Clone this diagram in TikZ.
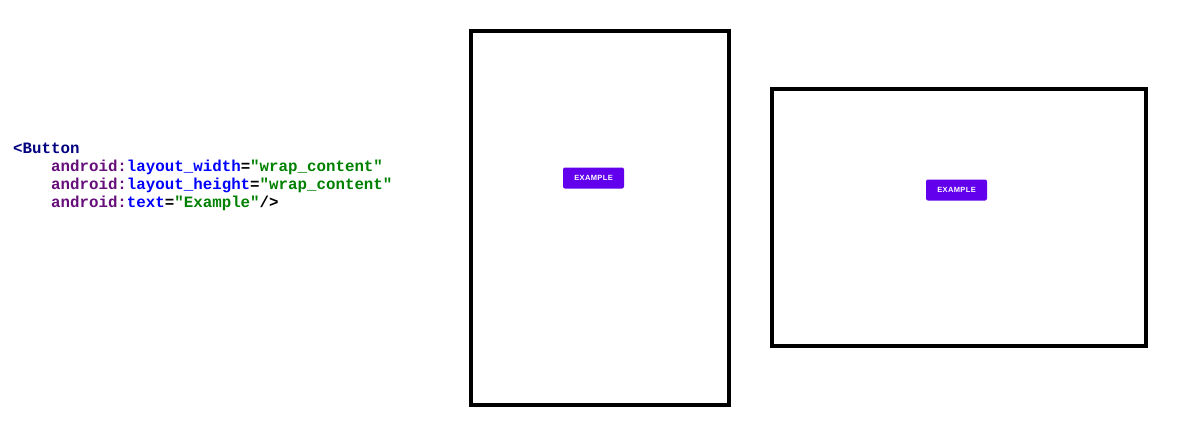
\documentclass[tikz,border=0pt]{standalone}
\usepackage{fontspec}
\setmonofont{Liberation Mono}
\newfontfamily\btnfont[LetterSpace=5]{Liberation Sans}
\definecolor{tagc}{HTML}{000080}
\definecolor{nsc}{HTML}{660E7A}
\definecolor{attc}{HTML}{0000FF}
\definecolor{valc}{HTML}{008000}
\definecolor{btnc}{HTML}{6200EE}
\tikzset{
  codeline/.style={anchor=base west, inner sep=0pt, font=\ttfamily\bfseries\fontsize{15.8}{18}\selectfont},
  screen/.style={draw=black, line width=4pt, fill=white},
  btn/.style={fill=btnc, rounded corners=2pt, text=white, font=\btnfont\bfseries\fontsize{7.5}{9}\selectfont, minimum width=61pt, minimum height=21pt, inner sep=0pt}
}
\begin{document}
\begin{tikzpicture}[x=1pt,y=-1pt]
\useasboundingbox (0,0) rectangle (1200,437);
\node[codeline] (l1) at (13,153) {\textcolor{tagc}{<Button}};
\node[codeline] (l2) at (13,171) {\phantom{xxxx}\textcolor{nsc}{android:}\textcolor{attc}{layout\_width}=\textcolor{valc}{"wrap\_content"}};
\node[codeline] (l3) at (13,189) {\phantom{xxxx}\textcolor{nsc}{android:}\textcolor{attc}{layout\_height}=\textcolor{valc}{"wrap\_content"}};
\node[codeline] (l4) at (13,207) {\phantom{xxxx}\textcolor{nsc}{android:}\textcolor{attc}{text}=\textcolor{valc}{"Example"}/>};
\draw[screen] (471,31) rectangle (729,405);
\draw[screen] (772,89) rectangle (1146,346);
\node[btn] (b1) at (593.5,178) {EXAMPLE};
\node[btn] (b2) at (956.5,190) {EXAMPLE};
\end{tikzpicture}
\end{document}
